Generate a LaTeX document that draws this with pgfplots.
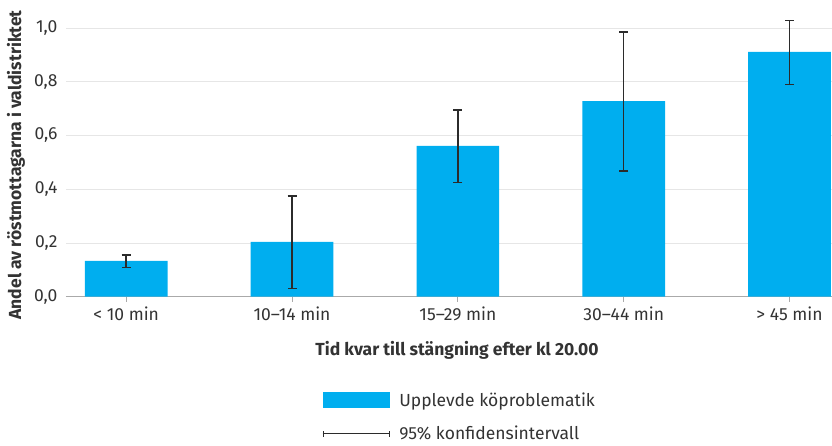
\documentclass[border=0pt]{standalone}
\usepackage{fontspec}
\setmainfont{Fira Sans}
\usepackage{pgfplots}
\usepackage{pgfplotstable}
\pgfplotsset{compat=1.18}
\definecolor{barblue}{HTML}{00AEEF}
\definecolor{txt}{HTML}{333333}
\definecolor{errc}{HTML}{2B2B2B}
\definecolor{gridc}{HTML}{E6E6E6}
\definecolor{axc}{HTML}{AAAAAA}
\pgfplotstableread{
x y yp ym
0 0.133 0.022 0.024
1 0.204 0.171 0.173
2 0.561 0.134 0.135
3 0.728 0.257 0.260
4 0.911 0.116 0.122
}\data
\begin{document}
\begin{tikzpicture}[font=\fontsize{17.5}{21}\selectfont, text=txt]
\begin{axis}[
  scale only axis, width=766pt, height=296.7pt,
  xmin=-0.363, xmax=4.256, ymin=0, ymax=1.104,
  clip=false,
  axis x line*=bottom, axis y line*=left,
  y axis line style={draw=none},
  x axis line style={draw=axc, line width=1.3pt},
  ytick={0,0.2,0.4,0.6,0.8,1}, ytick style={draw=none},
  xtick={0,1,2,3,4},
  xticklabels={{< 10 min},{10–14 min},{15–29 min},{30–44 min},{> 45 min}},
  xtick style={draw=axc, line width=1pt},
  tick align=outside, major tick length=5pt,
  ymajorgrids, grid style={draw=gridc, line width=0.9pt},
  /pgf/number format/assume math mode=true,
  yticklabel style={/pgf/number format/fixed, /pgf/number format/precision=1,
    /pgf/number format/fixed zerofill, /pgf/number format/use comma, text=txt},
  xticklabel style={text=txt, yshift=-1.5pt},
  ylabel={\bfseries Andel av röstmottagarna i valdistriktet},
  ylabel style={at={(axis description cs:-0.0653,0.444)}, anchor=center, text=txt},
  xlabel={\bfseries Tid kvar till stängning efter kl 20.00},
  xlabel style={at={(axis description cs:0.5104,-0.181)}, anchor=center, text=txt},
  legend style={at={(axis description cs:0.3342,-0.321)}, anchor=north west,
    draw=none, fill=none, inner sep=0pt, row sep=18pt, column sep=9pt,
    nodes={inner sep=0pt, text=txt}},
  legend cell align=left,
]
\addplot[ybar, bar width=82.7pt, fill=barblue, draw=none,
  legend image code/.code={\fill[barblue] (0pt,-8pt) rectangle (67pt,8pt);},
  error bars/.cd, y dir=both, y explicit,
  error bar style={errc, line width=1.4pt},
  error mark options={rotate=90, errc, mark size=4.5pt, line width=1.4pt}]
  table[x=x, y=y, y error plus=yp, y error minus=ym]{\data};
\addlegendentry{Upplevde köproblematik}
\addlegendimage{legend image code/.code={\draw[errc, line width=1.1pt] (0pt,0pt)--(67pt,0pt) (0.5pt,-3pt)--(0.5pt,3pt) (66.5pt,-3pt)--(66.5pt,3pt);}}
\addlegendentry{95\% konfidensintervall}
\end{axis}
\pgfresetboundingbox
\path[use as bounding box] (-66pt,-148.3pt) rectangle (766pt,296.7pt);
\end{tikzpicture}
\end{document}
